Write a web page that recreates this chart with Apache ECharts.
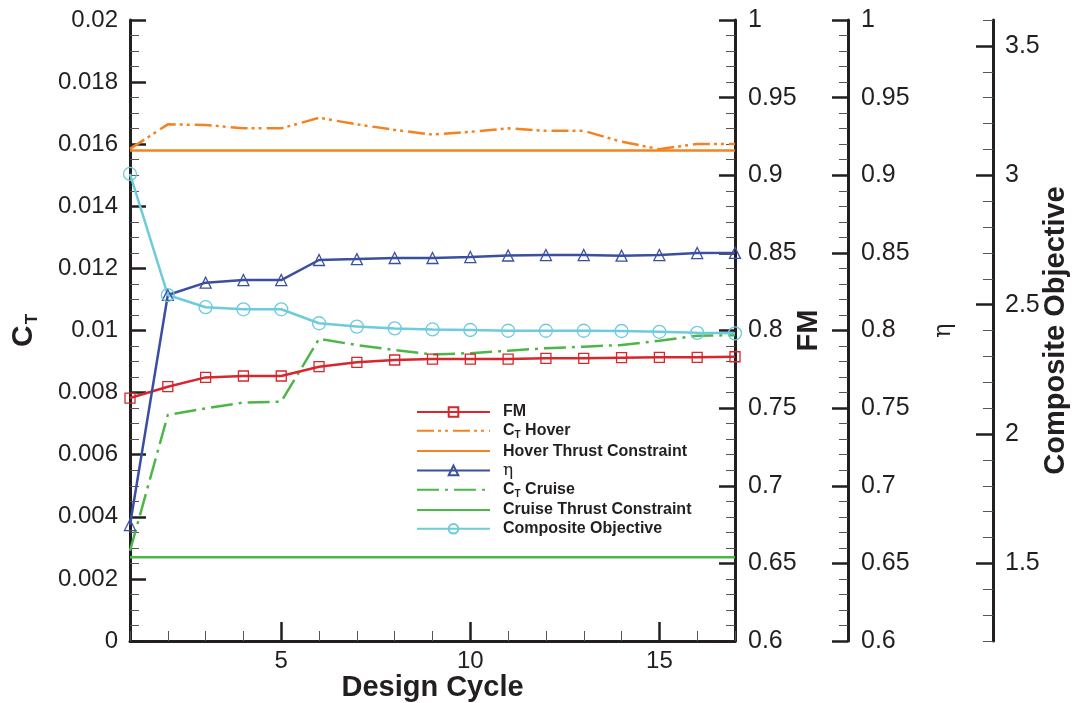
<!DOCTYPE html>
<html><head><meta charset="utf-8">
<script src="https://cdn.jsdelivr.net/npm/echarts@6/dist/echarts.min.js"></script>
<style>html,body{margin:0;padding:0;background:#fff;overflow:hidden}#c{width:1074px;height:703px}</style>
</head><body><div id="c"></div>
<script>
// ---- data ----
const cycles = [1,2,3,4,5,6,7,8,9,10,11,12,13,14,15,16,17];
const fm = [0.7565,0.7638,0.7698,0.7707,0.7707,0.7767,0.7795,0.7810,0.7816,0.7816,0.7816,0.7821,0.7821,0.7825,0.7827,0.7827,0.7831];
const ctHover = [0.01585,0.01664,0.01662,0.01651,0.01651,0.01685,0.01664,0.01646,0.01631,0.01640,0.01651,0.01643,0.01643,0.01608,0.01584,0.01601,0.01601];
const eta = [0.6747,0.8229,0.8308,0.8325,0.8325,0.8454,0.8460,0.8467,0.8467,0.8473,0.8483,0.8486,0.8486,0.8482,0.8486,0.8499,0.8500];
const ctCruise = [0.00290,0.00728,0.00749,0.00768,0.00771,0.00973,0.00953,0.00937,0.00923,0.00927,0.00935,0.00943,0.00948,0.00953,0.00967,0.00983,0.00985];
const composite = [3.005,2.537,2.490,2.482,2.482,2.428,2.415,2.408,2.404,2.402,2.399,2.399,2.399,2.398,2.395,2.391,2.389];
const constraintCycles = [1,17];
const hoverConstraint = [0.0158,0.0158];
const cruiseConstraint = [0.0027,0.0027];
const xMajorTicks = [5,10,15];
const compositeMajorTicks = [1.5,2,2.5,3,3.5];

const pair = (xs, ys) => xs.map((x,i)=>[x, ys[i]]);

const INK = '#231f20';
const FONT = 'Liberation Sans, Arial, sans-serif';
const lblStyle = {color: INK, fontSize: 24, fontFamily: FONT};
const lblStyleR = {color: INK, fontSize: 25, fontFamily: FONT};
const majorTick = {show:true, inside:true, length:16, lineStyle:{color:INK, width:2.5}};
const minorTickCfg = (n)=>({show:true, splitNumber:n, length:9, lineStyle:{color:'#555', width:1}});
const axisLineCfg = {show:true, onZero:false, lineStyle:{color:INK, width:3}};
const HIDDEN = {color:'rgba(0,0,0,0)', borderWidth:0};

const RED='#d7262c', ORANGE='#f58220', BLUE='#3b4fa0', GREEN='#4cb748', CYAN='#6dcbdc';

const chart = echarts.init(document.getElementById('c'), null, {renderer:'canvas'});
chart.setOption({
  backgroundColor:'#fff',
  animation:false,
  grid:{left:130, right:339, top:20, bottom:62, containLabel:false, outerBoundsMode:'none'},
  xAxis:[
    {type:'value', min:1, max:17, interval:1, position:'bottom',
     axisLine:axisLineCfg,
     axisTick:{show:true, inside:true, length:10, lineStyle:{color:'#555', width:1}},
     axisLabel:Object.assign({}, lblStyle, {margin:8, formatter:(v)=> xMajorTicks.indexOf(Math.round(v))>=0 && Math.abs(v-Math.round(v))<1e-6 ? String(Math.round(v)) : ''}),
     splitLine:{show:false},
     name:'Design Cycle', nameLocation:'middle', nameGap:32, nameMoveOverlap:false,
     nameTextStyle:{color:INK, fontSize:29, fontWeight:'bold', fontFamily:FONT}},
    {type:'value', min:1, max:17, position:'bottom',
     axisLine:{show:false},
     axisTick:Object.assign({}, majorTick, {customValues:xMajorTicks, length:19}),
     axisLabel:{show:false}, splitLine:{show:false}}
  ],
  yAxis:[
    {type:'value', min:0, max:0.02, interval:0.002, position:'left',
     axisLine:axisLineCfg, axisTick:majorTick, minorTick:minorTickCfg(4),
     axisLabel:Object.assign({}, lblStyle, {margin:12}),
     splitLine:{show:false}, minorSplitLine:{show:false},
     name:'{c|C}{t|T}', nameLocation:'middle', nameGap:89, nameRotate:90, nameMoveOverlap:false,
     nameTextStyle:{rich:{
       c:{fontSize:30, fontWeight:'bold', color:INK, fontFamily:FONT, lineHeight:34},
       t:{fontSize:17, fontWeight:'bold', color:INK, fontFamily:FONT, lineHeight:34, verticalAlign:'bottom', padding:[14,0,0,1]}
     }}},
    {type:'value', min:0.6, max:1, interval:0.05, position:'right', offset:0,
     axisLine:axisLineCfg, axisTick:majorTick, minorTick:minorTickCfg(5),
     axisLabel:Object.assign({}, lblStyleR, {margin:13}),
     splitLine:{show:false},
     name:'FM', nameLocation:'middle', nameGap:59, nameRotate:90, nameMoveOverlap:false,
     nameTextStyle:{color:INK, fontSize:29, fontWeight:'bold', fontFamily:FONT}},
    {type:'value', min:0.6, max:1, interval:0.05, position:'right', offset:113,
     axisLine:axisLineCfg, axisTick:majorTick, minorTick:minorTickCfg(5),
     axisLabel:Object.assign({}, lblStyleR, {margin:13}),
     splitLine:{show:false},
     name:'η', nameLocation:'middle', nameGap:84, nameRotate:90, nameMoveOverlap:false,
     nameTextStyle:{color:INK, fontSize:24, fontFamily:'DejaVu Serif, serif'}},
    {type:'value', min:1.2, max:3.6, interval:0.1, position:'right', offset:258,
     axisLine:axisLineCfg,
     axisTick:{show:true, inside:true, length:10, lineStyle:{color:'#555', width:1}},
     axisLabel:Object.assign({}, lblStyleR, {margin:12, formatter:(v)=>{const h=v*2; return Math.abs(h-Math.round(h))<1e-6 ? String(+v.toFixed(1)) : '';}}),
     splitLine:{show:false},
     name:'Composite Objective', nameLocation:'middle', nameGap:48, nameRotate:90, nameMoveOverlap:false,
     nameTextStyle:{color:INK, fontSize:29, fontWeight:'bold', fontFamily:FONT}},
    {type:'value', min:1.2, max:3.6, position:'right', offset:258,
     axisLine:{show:false},
     axisTick:Object.assign({}, majorTick, {customValues:compositeMajorTicks, length:17}),
     axisLabel:{show:false}, splitLine:{show:false}}
  ],
  legend:{
    orient:'vertical', left:416, top:404, padding:0, itemWidth:73, itemHeight:12, itemGap:2.8,
    selectedMode:false,
    textStyle:{color:INK, fontSize:16, fontWeight:'bold', fontFamily:FONT, padding:[0,0,0,8],
      rich:{
        b:{fontSize:16, fontWeight:'bold', color:INK, fontFamily:FONT, lineHeight:19},
        s:{fontSize:10, fontWeight:'bold', color:INK, fontFamily:FONT, verticalAlign:'bottom', padding:[7,0,0,0]},
        e:{fontSize:17, fontWeight:'normal', color:INK, fontFamily:'DejaVu Serif, serif', lineHeight:19}
      }},
    formatter:(n)=>{
      if(n==='CT Hover') return '{b|C}{s|T}{b| Hover}';
      if(n==='CT Cruise') return '{b|C}{s|T}{b| Cruise}';
      if(n==='η') return '{e|η}';
      return '{b|'+n+'}';
    },
    data:['FM','CT Hover','Hover Thrust Constraint','η','CT Cruise','Cruise Thrust Constraint','Composite Objective']
  },
  series:[
    {name:'Hover Thrust Constraint', type:'line', yAxisIndex:0, data:pair(constraintCycles, hoverConstraint),
     symbol:'circle', showSymbol:false, color:ORANGE, itemStyle:HIDDEN, lineStyle:{color:ORANGE, width:2.5}, z:2},
    {name:'Cruise Thrust Constraint', type:'line', yAxisIndex:0, data:pair(constraintCycles, cruiseConstraint),
     symbol:'circle', showSymbol:false, color:GREEN, itemStyle:HIDDEN, lineStyle:{color:GREEN, width:2.5}, z:2},
    {name:'CT Hover', type:'line', yAxisIndex:0, data:pair(cycles, ctHover),
     symbol:'circle', showSymbol:false, color:ORANGE, itemStyle:HIDDEN, lineStyle:{color:ORANGE, width:2.5, type:[17,4,3,4,3,5]}, z:3},
    {name:'CT Cruise', type:'line', yAxisIndex:0, data:pair(cycles, ctCruise),
     symbol:'circle', showSymbol:false, color:GREEN, itemStyle:HIDDEN, lineStyle:{color:GREEN, width:2.5, type:[22,6,3,6]}, z:3},
    {name:'FM', type:'line', yAxisIndex:1, data:pair(cycles, fm),
     symbol:'rect', symbolSize:10, showAllSymbol:true, color:RED,
     lineStyle:{color:RED, width:2.5}, itemStyle:{color:'rgba(255,255,255,0)', borderColor:RED, borderWidth:1.3}, z:4},
    {name:'η', type:'line', yAxisIndex:2, data:pair(cycles, eta),
     symbol:'triangle', symbolSize:11, showAllSymbol:true, color:BLUE,
     lineStyle:{color:BLUE, width:2.5}, itemStyle:{color:'rgba(255,255,255,0)', borderColor:BLUE, borderWidth:1.3}, z:4},
    {name:'Composite Objective', type:'line', yAxisIndex:3, data:pair(cycles, composite),
     symbol:'circle', symbolSize:13, showAllSymbol:true, color:CYAN,
     lineStyle:{color:CYAN, width:2.5}, itemStyle:{color:'rgba(255,255,255,0)', borderColor:CYAN, borderWidth:1.3}, z:4}
  ]
});
</script></body></html>
